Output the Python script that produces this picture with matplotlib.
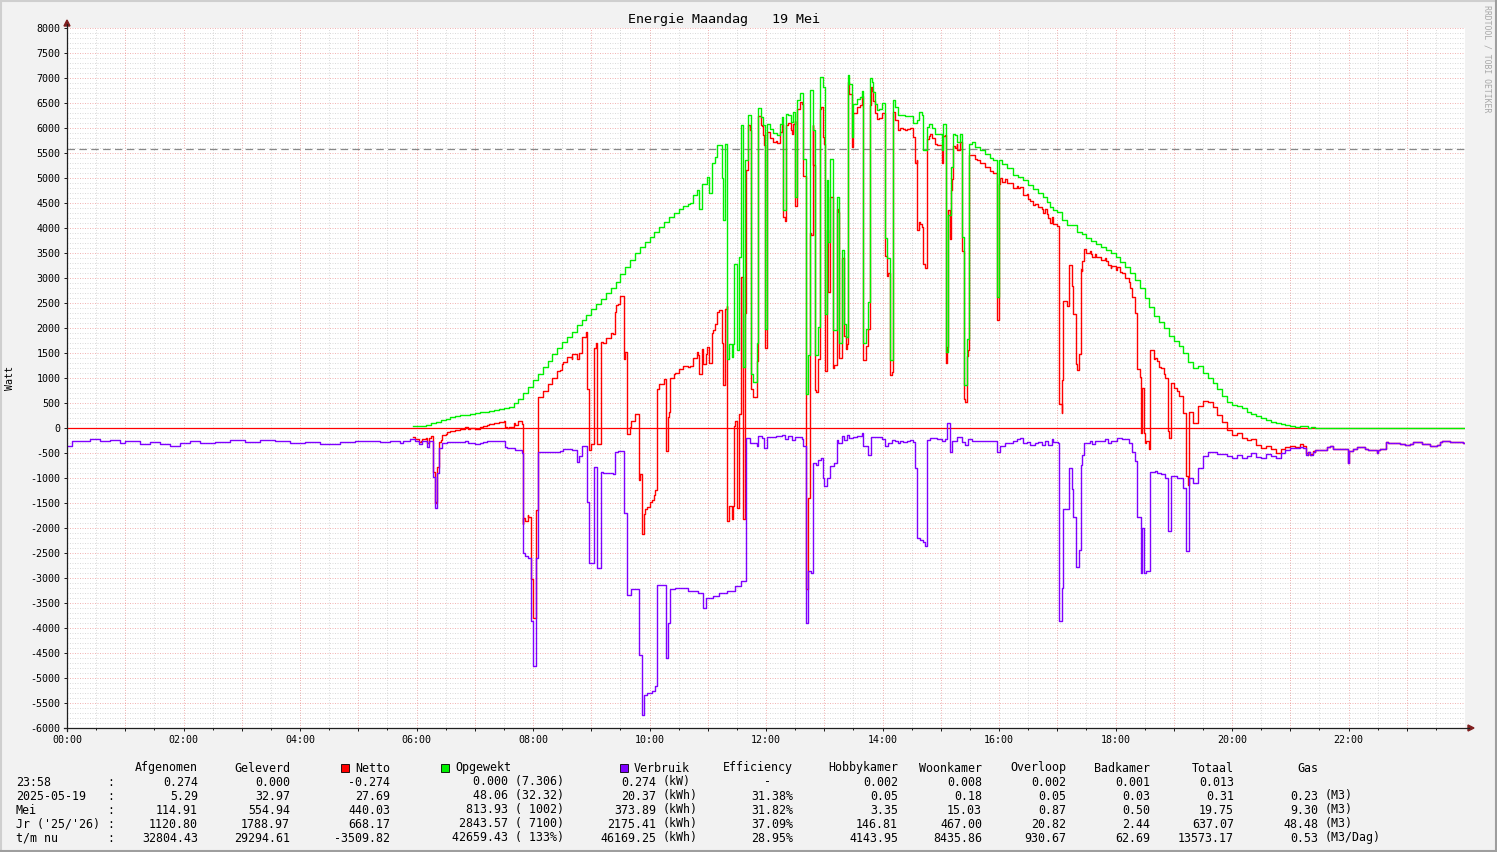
import numpy as np
import matplotlib
matplotlib.use("Agg")
import matplotlib.pyplot as plt
from matplotlib.lines import Line2D
from matplotlib.patches import Rectangle, Polygon
from matplotlib.ticker import FixedLocator, MultipleLocator, FuncFormatter

W, H = 1497, 852
MONO = "DejaVu Sans Mono"

# ------------------------------------------------------------------ data
title = "Energie Maandag   19 Mei"
y_label = "Watt"
watermark = "RRDTOOL / TOBI OETIKER"
limit_w = 5580  # dashed reference line

# (minute of day, watt) step points
opgewekt_pts = [
    (356, 50), (360, 40), (365, 50), (370, 70), (375, 100), (380, 130), (385, 165), (390, 190),
    (395, 215), (400, 235), (405, 255), (410, 270), (415, 285), (420, 300), (425, 315), (430, 330),
    (435, 345), (440, 365), (445, 380), (450, 400), (455, 430), (460, 500), (465, 590), (470, 700),
    (475, 830), (480, 960), (485, 1090), (490, 1220), (495, 1350), (500, 1480), (505, 1610),
    (510, 1730), (515, 1830), (520, 1930), (525, 2060), (530, 2170), (535, 2270), (540, 2380),
    (545, 2480), (550, 2590), (555, 2700), (560, 2800), (565, 2930), (570, 3090), (575, 3230),
    (580, 3370), (585, 3500), (590, 3620), (595, 3730), (600, 3830), (605, 3930), (610, 4030),
    (615, 4130), (620, 4220), (625, 4310), (630, 4380), (635, 4440), (640, 4480),
    (641.8, 4500), (644.5, 4660), (648.6, 4770), (651.4, 4390), (653.8, 4890), (659, 5030),
    (661.7, 4710), (664.1, 5310), (667.5, 5430), (669.9, 5670), (674.4, 5010), (676.1, 4170),
    (678.2, 5690), (680.2, 1390), (682.3, 1690), (684.7, 1430), (686.4, 1690), (687.4, 3290),
    (689.8, 1560), (692.2, 3430), (694, 6070), (696, 1230), (698.4, 5360), (701.8, 6260),
    (704.3, 1090), (707, 930), (710.4, 1710), (712.2, 6410), (714.6, 6230), (716.6, 6060),
    (719, 1990), (721.4, 6090), (724.2, 5990), (727.6, 5910), (731, 5860), (734.5, 6090),
    (736.5, 6230), (737.9, 4360), (740.6, 6290), (743, 6260), (745.8, 6130), (747.5, 6330),
    (750.3, 4630), (751.6, 6560), (755.1, 6710), (758.5, 5390), (761.6, 690), (763.7, 1460),
    (765.4, 6760), (768.1, 5960), (770.5, 1460), (774, 2030), (775.7, 7030), (778.4, 6830),
    (780.8, 2290), (782.5, 4960), (784.3, 3730), (786, 5390), (788.7, 1960), (793.5, 4630),
    (795.6, 1710), (798, 3560), (800.4, 2090), (802.5, 1830), (804.2, 7060), (805.9, 6890),
    (808.3, 5830), (810, 6490), (813.4, 6590), (816.9, 6630), (818.6, 6750), (820.3, 1710),
    (822.7, 1990), (825.5, 2530), (827.2, 7010), (828.9, 6930), (830.6, 6730), (832.3, 6490),
    (834, 6360), (836.8, 6390), (839.2, 6510), (842.6, 3800), (845, 3400), (847.8, 1360),
    (850.5, 6560), (853, 6430), (856.4, 6260), (863.3, 6240), (871.8, 6110), (875.3, 6160),
    (878, 6330), (880.4, 6260), (882.1, 5560), (885.6, 6030), (888.3, 6090), (890.7, 6000),
    (894.2, 5890), (901, 5560), (902.7, 6090), (905.5, 1530), (907.9, 4260), (910.3, 5230),
    (912.4, 5890), (914.8, 5860), (917.2, 5730), (919.9, 5890), (922.3, 3830), (924, 860),
    (927.5, 1790), (929.5, 5690), (931.9, 5720), (935.4, 5630), (940.5, 5560), (945.7, 5480),
    (950.8, 5400), (954.3, 5360), (957.7, 2630), (960.4, 5360), (962.8, 5290), (968, 5200),
    (974.9, 5060), (980, 5020), (985.2, 4960), (990.3, 4870), (995.5, 4790), (1000.6, 4710),
    (1005.8, 4630), (1009.2, 4530), (1012.6, 4430), (1016.1, 4370), (1019.5, 4330),
    (1024.7, 4160), (1029.8, 4060), (1040.1, 3930), (1045, 3880), (1050, 3800), (1055, 3740),
    (1060, 3680), (1065, 3620), (1070, 3560), (1075, 3500), (1080, 3420), (1085, 3330),
    (1090, 3220), (1095, 3100), (1100, 2960), (1105, 2800), (1110, 2600), (1115, 2430),
    (1120, 2250), (1125, 2120), (1130, 2000), (1135, 1850), (1140, 1750), (1145, 1650),
    (1150, 1500), (1155, 1320), (1160, 1200), (1165, 1250), (1170, 1100), (1175, 1000),
    (1180, 900), (1185, 780), (1190, 640), (1195, 520), (1200, 470), (1205, 440), (1210, 400),
    (1215, 330), (1220, 280), (1225, 250), (1230, 200), (1235, 160), (1240, 130), (1245, 100),
    (1250, 80), (1255, 60), (1260, 40), (1265, 20), (1270, 50), (1278, 0), (1281, 27), (1285, 0),
]

verbruik_pts = [
    (0, -360), (5, -260), (24, -220), (34, -260), (44, -240), (55, -300), (60, -260), (75, -320),
    (85, -280), (96, -320), (106, -360), (116, -300), (127, -260), (137, -300), (152, -280),
    (168, -240), (183, -280), (199, -240), (214, -260), (230, -300), (245, -280), (261, -320),
    (281, -280), (297, -260), (312, -260), (322, -280), (332.7, -267), (343, -300), (345.8, -260),
    (353.3, -227), (358.5, -260), (363, -313), (365.3, -260), (370.5, -373), (373.2, -260),
    (377.3, -973), (379.4, -1607), (381.5, -907), (383.5, -400), (386, -300), (391, -270),
    (410, -250), (413.4, -290), (420.3, -327), (425.4, -300), (428.9, -280), (432.3, -267),
    (451.2, -373), (452.9, -407), (461.5, -440), (468.3, -500), (469.4, -2507), (471.8, -2560),
    (475.2, -2600), (478, -3850), (480, -4750), (483, -2600), (485.5, -473), (508, -453),
    (511.2, -413), (519.8, -440), (525, -673), (527.7, -553), (530.1, -353), (535.3, -1487),
    (538, -2707), (542.8, -773), (545.6, -2807), (549.7, -873), (552.4, -893), (562, -927),
    (564.5, -473), (567.9, -453), (574.1, -1707), (576.5, -3340), (580.6, -3220), (589.5, -4540),
    (591.9, -5740), (594.3, -5340), (597.8, -5300), (602.2, -5260), (605.7, -5160),
    (608.1, -3140), (617, -4593), (619.4, -3907), (621.1, -3220), (626, -3200), (640, -3250),
    (650, -3300), (655, -3600), (658, -3400), (665, -3350), (672, -3300), (680, -3250),
    (688, -3150), (694, -3050), (699.4, -207), (703.6, -307), (710.4, -367), (712.2, -167),
    (715.6, -190), (718, -393), (721.4, -170), (724.2, -187), (730.3, -167), (736.2, -147),
    (739.6, -220), (743, -167), (746.5, -240), (749.9, -180), (756.8, -220), (758.5, -353),
    (761.3, -3900), (763.5, -2850), (766, -2900), (768, -700), (771.5, -740), (774, -640),
    (776.4, -600), (778.4, -1000), (780.1, -1150), (782.5, -1000), (786, -760), (790.1, -700),
    (792.8, -240), (794.6, -307), (798, -167), (800.4, -240), (803.1, -140), (805.9, -200),
    (810, -180), (813.4, -167), (818.6, -100), (820.3, -353), (825.5, -540), (827.9, -180),
    (839.2, -210), (842.6, -353), (846, -300), (849.5, -240), (853, -267), (856.4, -300),
    (858.1, -250), (861.5, -280), (865, -267), (868.4, -240), (871.8, -280), (873.9, -807),
    (876, -2207), (878.7, -2240), (881.5, -2280), (883.9, -2360), (886.3, -240), (889, -207),
    (895.9, -227), (901, -253), (904.5, -227), (906.2, 93), (909.6, -473), (911.3, -253),
    (916.5, -173), (921.6, -280), (925.1, -340), (928.5, -227), (931.9, -253), (937.1, -267),
    (940.5, -253), (947.4, -260), (957.7, -473), (961.1, -360), (966.3, -307), (974.9, -253),
    (978.3, -220), (981.7, -207), (985.2, -293), (988.6, -280), (992, -333), (997.2, -300),
    (1000.6, -280), (1004, -333), (1007.5, -253), (1010.9, -333), (1014.3, -213), (1016.1, -280),
    (1021.2, -293), (1022.2, -3853), (1025, -3207), (1026.3, -1627), (1032.5, -807),
    (1034.9, -1227), (1036.6, -1773), (1039, -2773), (1042.8, -2440), (1044.2, -740),
    (1045.9, -540), (1048, -293), (1053.8, -253), (1056.2, -320), (1059, -267), (1069.3, -227),
    (1072.7, -293), (1075.1, -253), (1077.8, -267), (1081.3, -207), (1086.4, -220),
    (1089.9, -227), (1094.3, -293), (1096.7, -473), (1100.2, -653), (1102.6, -1773),
    (1106, -2900), (1107.5, -2000), (1109, -2900), (1111.5, -2850), (1115.6, -873),
    (1120.8, -853), (1123.2, -900), (1127, -920), (1131, -1000), (1134, -2050), (1137, -950),
    (1143, -1000), (1150, -1200), (1153, -2450), (1156, -1000), (1160, -1100), (1165, -800),
    (1170, -550), (1175, -480), (1185, -520), (1195, -560), (1200, -600), (1205, -540),
    (1210, -600), (1215, -560), (1220, -500), (1225, -580), (1230, -600), (1235, -520),
    (1240, -550), (1245, -600), (1250, -500), (1255, -440), (1260, -400), (1270.1, -373),
    (1273.5, -400), (1276.3, -540), (1278.7, -470), (1280.4, -540), (1283.8, -480),
    (1285.6, -440), (1297.6, -373), (1301, -350), (1304.4, -410), (1319.2, -707),
    (1320.9, -450), (1325, -420), (1328.5, -373), (1333.6, -387), (1337.1, -420),
    (1340.5, -447), (1349.1, -500), (1350.8, -447), (1352.5, -410), (1358.7, -273),
    (1361.1, -300), (1373.1, -320), (1378.3, -333), (1383.4, -320), (1386.9, -287),
    (1395.4, -320), (1404, -353), (1410.9, -340), (1414.3, -287), (1416, -253), (1424.6, -287),
    (1438.4, -300),
]

# legend table
col_heads = ["Afgenomen", "Geleverd", "Netto", "Opgewekt", "Verbruik", "Efficiency",
             "Hobbykamer", "Woonkamer", "Overloop", "Badkamer", "Totaal", "Gas"]
row_labels = ["23:58", "2025-05-19", "Mei", "Jr ('25/'26)", "t/m nu"]
afgenomen = ["0.274", "5.29", "114.91", "1120.80", "32804.43"]
geleverd = ["0.000", "32.97", "554.94", "1788.97", "29294.61"]
netto = ["-0.274", "27.69", "440.03", "668.17", "-3509.82"]
opgewekt = ["0.000 (7.306)", "48.06 (32.32)", "813.93 ( 1002)", "2843.57 ( 7100)", "42659.43 ( 133%)"]
verbruik = ["0.274", "20.37", "373.89", "2175.41", "46169.25"]
verbruik_unit = ["(kW)", "(kWh)", "(kWh)", "(kWh)", "(kWh)"]
efficiency = ["-", "31.38%", "31.82%", "37.09%", "28.95%"]
hobbykamer = ["0.002", "0.05", "3.35", "146.81", "4143.95"]
woonkamer = ["0.008", "0.18", "15.03", "467.00", "8435.86"]
overloop = ["0.002", "0.05", "0.87", "20.82", "930.67"]
badkamer = ["0.001", "0.03", "0.50", "2.44", "62.69"]
totaal = ["0.013", "0.31", "19.75", "637.07", "13573.17"]
gas = ["", "0.23", "9.30", "48.48", "0.53"]
gas_unit = ["", "(M3)", "(M3)", "(M3)", "(M3/Dag)"]

C_NET, C_OPG, C_VERB = "#ff0000", "#00f000", "#7f00ff"

# ------------------------------------------------------------------ series
opg_t, opg_v = map(np.array, zip(*opgewekt_pts))
ver_t, ver_v = map(np.array, zip(*verbruik_pts))
DAY = 1440


def step_at(tb, vb, tq):
    idx = np.searchsorted(tb, tq, side="right") - 1
    return np.where(idx >= 0, vb[np.clip(idx, 0, None)], np.nan)


# Netto = Opgewekt - Verbruik (verbruik plotted negative)
net_t = np.union1d(opg_t, ver_t[ver_t >= opg_t[0]])
net_v = step_at(opg_t, opg_v, net_t) + step_at(ver_t, ver_v, net_t)

# ------------------------------------------------------------------ figure
fig = plt.figure(figsize=(W / 100, H / 100), dpi=100, facecolor="#f2f2f2")


def fx(x):
    return x / W


def fy(y):
    return 1 - y / H


X0, X1, Y0, Y1 = 67, 1465, 28, 728
ax = fig.add_axes([fx(X0), fy(Y1), (X1 - X0) / W, (Y1 - Y0) / H])
ax.set_facecolor("white")
ax.set_xlim(0, DAY)
ax.set_ylim(-6000, 8000)
for s in ax.spines.values():
    s.set_visible(False)

ax.xaxis.set_major_locator(FixedLocator(np.arange(0, DAY, 60)))
ax.xaxis.set_minor_locator(FixedLocator(np.arange(30, DAY, 60)))
ax.yaxis.set_major_locator(MultipleLocator(500))
ax.yaxis.set_minor_locator(MultipleLocator(100))
ax.xaxis.set_major_formatter(FuncFormatter(
    lambda v, p: f"{int(v) // 60:02d}:00" if int(v) % 120 == 0 else ""))
ax.yaxis.set_major_formatter(FuncFormatter(lambda v, p: f"{int(v)}"))
ax.grid(which="minor", color="#8f8f8f", alpha=0.32, lw=0.72, ls=(0, (1, 1.5)))
ax.grid(which="major", color="#de5050", alpha=0.42, lw=0.72, ls=(0, (1, 1.5)))
ax.set_axisbelow(True)
ax.tick_params(which="major", length=2.2, width=0.72, color="#1f1f1f", pad=2.6,
               labelsize=7.2, direction="out")
ax.tick_params(axis="y", which="minor", length=0)
ax.tick_params(axis="x", which="minor", length=1.4, width=0.72, color="#1f1f1f",
               direction="out")
for lab in ax.get_xticklabels() + ax.get_yticklabels():
    lab.set_fontfamily(MONO)

# reference lines
ax.axhline(0, color=C_NET, lw=0.9, zorder=2)
ax.axhline(limit_w, color="#888888", lw=0.9, ls=(0, (6, 3.5)), zorder=2)

# series
ax.step(np.append(net_t, DAY), np.append(net_v, net_v[-1]), where="post",
        color=C_NET, lw=1.0, zorder=3)
ax.step(np.append(opg_t, DAY), np.append(opg_v, opg_v[-1]), where="post",
        color=C_OPG, lw=1.0, zorder=4)
ax.step(np.append(ver_t, DAY), np.append(ver_v, ver_v[-1]), where="post",
        color=C_VERB, lw=1.0, zorder=5)

# axes lines with arrows
AX_C, AR_C = "#1f1f1f", "#801f1f"
fig.add_artist(Line2D([fx(X0), fx(X0)], [fy(Y1 + 3), fy(24)], color=AX_C, lw=0.9))
fig.add_artist(Line2D([fx(X0 - 3), fx(1469)], [fy(Y1), fy(Y1)], color=AX_C, lw=0.9))
fig.add_artist(Polygon([[fx(X0 - 3), fy(26)], [fx(X0 + 3), fy(26)], [fx(X0), fy(20)]],
                       closed=True, color=AR_C, transform=fig.transFigure))
fig.add_artist(Polygon([[fx(1468), fy(Y1 - 3)], [fx(1468), fy(Y1 + 3)], [fx(1474), fy(Y1)]],
                       closed=True, color=AR_C, transform=fig.transFigure))

# texts
fig.text(fx(724), fy(19), title, ha="center", va="center", fontsize=9.6, family=MONO)
fig.text(fx(10), fy(378), y_label, ha="center", va="center", rotation=90,
         fontsize=7.2, family=MONO)
fig.text(fx(1487), fy(5), watermark, ha="center", va="top", rotation=270,
         fontsize=5.9, family=MONO, color="#a8a8a8")

# border shading
fig.add_artist(Line2D([0, 1], [fy(1), fy(1)], color="#cfcfcf", lw=1.5))
fig.add_artist(Line2D([fx(1), fx(1)], [0, 1], color="#cfcfcf", lw=1.5))
fig.add_artist(Line2D([0, 1], [fy(851), fy(851)], color="#9e9e9e", lw=1.5))
fig.add_artist(Line2D([fx(1496), fx(1496)], [0, 1], color="#9e9e9e", lw=1.5))

# legend table
FS = 8.37
HEAD_Y = 768
ROW_Y = [782 + 14 * i for i in range(len(row_labels))]


def t(x, y, s, ha="left"):
    fig.text(fx(x), fy(y), s, ha=ha, va="center", fontsize=FS, family=MONO)


def square(x, y, c):
    fig.add_artist(Rectangle((fx(x), fy(y + 4)), 8 / W, 8 / H, facecolor=c,
                             edgecolor="#000000", lw=0.6, transform=fig.transFigure))


t(198, HEAD_Y, col_heads[0], "right")
t(290, HEAD_Y, col_heads[1], "right")
square(341, HEAD_Y, C_NET)
t(355, HEAD_Y, col_heads[2])
square(441, HEAD_Y, C_OPG)
t(455, HEAD_Y, col_heads[3])
square(620, HEAD_Y, C_VERB)
t(634, HEAD_Y, col_heads[4])
for name, xr in zip(col_heads[5:], [793, 898, 982, 1066, 1150, 1234, 1318]):
    t(xr, HEAD_Y, name, "right")

for i, y in enumerate(ROW_Y):
    t(16, y, row_labels[i])
    t(107, y, ":")
    t(198, y, afgenomen[i], "right")
    t(290, y, geleverd[i], "right")
    t(390, y, netto[i], "right")
    t(564, y, opgewekt[i], "right")
    t(656, y, verbruik[i], "right")
    t(663, y, verbruik_unit[i])
    if efficiency[i] == "-":
        t(768, y, efficiency[i], "center")
    else:
        t(793, y, efficiency[i], "right")
    t(898, y, hobbykamer[i], "right")
    t(982, y, woonkamer[i], "right")
    t(1066, y, overloop[i], "right")
    t(1150, y, badkamer[i], "right")
    t(1234, y, totaal[i], "right")
    if gas[i]:
        t(1318, y, gas[i], "right")
        t(1325, y, gas_unit[i])

fig.savefig("out.png", dpi=100, facecolor=fig.get_facecolor())
